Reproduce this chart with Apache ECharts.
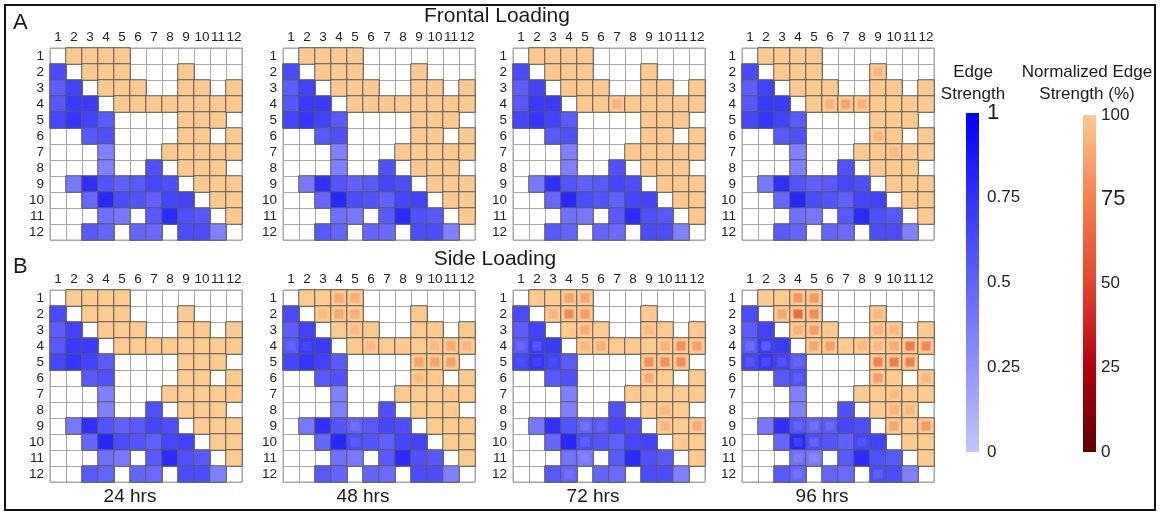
<!DOCTYPE html>
<html>
<head>
<meta charset="utf-8">
<script src="https://cdn.jsdelivr.net/npm/echarts@6.0.0/dist/echarts.min.js"></script>
<style>
  html, body { margin: 0; padding: 0; background: #fff; }
  #chart { width: 1161px; height: 514px; }
</style>
</head>
<body>
<div id="chart"></div>
<script>
// node labels (rows / columns of every matrix)
const nodeLabels = ['1', '2', '3', '4', '5', '6', '7', '8', '9', '10', '11', '12'];

// baseline edge strength, lower triangle (row, col), 0 = no edge
const baseStrength = [
  [0, 0, 0, 0, 0, 0, 0, 0, 0, 0, 0, 0],
  [0.62, 0, 0, 0, 0, 0, 0, 0, 0, 0, 0, 0],
  [0.53, 0.67, 0, 0, 0, 0, 0, 0, 0, 0, 0, 0],
  [0.55, 0.71, 0.70, 0, 0, 0, 0, 0, 0, 0, 0, 0],
  [0.65, 0.73, 0.67, 0.54, 0, 0, 0, 0, 0, 0, 0, 0],
  [0, 0, 0.55, 0.59, 0, 0, 0, 0, 0, 0, 0, 0],
  [0, 0, 0, 0.35, 0, 0, 0, 0, 0, 0, 0, 0],
  [0, 0, 0, 0.35, 0, 0, 0.59, 0, 0, 0, 0, 0],
  [0, 0.39, 0.76, 0.57, 0.51, 0.55, 0.65, 0.60, 0, 0, 0, 0],
  [0, 0, 0.48, 0.80, 0.61, 0.57, 0.51, 0.65, 0.67, 0, 0, 0],
  [0, 0, 0, 0.43, 0.39, 0, 0.55, 0.78, 0.59, 0.55, 0, 0],
  [0, 0, 0.55, 0.49, 0, 0.49, 0.46, 0, 0.61, 0.61, 0.35, 0]
];
// normalized edge strength (%) of every edge at baseline
const basePercent = 100;

// changed cells per time point: [row, col, value]
// row > col -> edge strength, row < col -> normalized edge strength (%)
const frontal24 = [];
const frontal48 = [];
const frontal72 = [[4, 7, 92]];
const frontal96 = [[2, 9, 93], [4, 6, 92], [4, 7, 88], [4, 8, 92], [6, 9, 93], [7, 10, 94]];

const side24 = [];
const side48 = [
  [1, 4, 90], [1, 5, 91], [2, 3, 95], [2, 4, 89], [2, 5, 91], [3, 5, 95], [4, 6, 94],
  [4, 10, 95], [4, 11, 90], [4, 12, 93], [5, 9, 86], [5, 10, 87], [5, 11, 86], [6, 9, 94],
  [4, 1, 0.49], [4, 2, 0.64], [9, 5, 0.44], [10, 5, 0.54], [11, 5, 0.37]
];
const side72 = [
  [1, 4, 87], [1, 5, 88], [2, 3, 92], [2, 4, 78], [2, 5, 85], [3, 5, 89], [3, 9, 95],
  [4, 5, 93], [4, 6, 91], [4, 10, 92], [4, 11, 80], [4, 12, 86], [5, 9, 80], [5, 10, 80],
  [5, 11, 79], [6, 9, 90], [8, 10, 94], [9, 10, 92], [9, 12, 90],
  [4, 1, 0.47], [4, 2, 0.56], [5, 1, 0.60], [5, 2, 0.66], [5, 3, 0.62], [9, 5, 0.42],
  [9, 6, 0.49], [10, 5, 0.51], [11, 4, 0.40], [11, 5, 0.34], [12, 4, 0.44]
];
const side96 = [
  [1, 4, 82], [1, 5, 84], [2, 3, 88], [2, 4, 66], [2, 5, 79], [2, 9, 94], [3, 4, 92],
  [3, 5, 85], [3, 9, 92], [3, 10, 94], [4, 5, 88], [4, 6, 85], [4, 8, 94], [4, 9, 94],
  [4, 10, 90], [4, 11, 72], [4, 12, 77], [5, 9, 75], [5, 10, 73], [5, 11, 75], [6, 9, 85],
  [6, 12, 94], [7, 10, 95], [8, 10, 92], [8, 11, 94], [9, 10, 88], [9, 12, 84],
  [4, 1, 0.45], [4, 2, 0.52], [5, 1, 0.57], [5, 2, 0.62], [5, 3, 0.58], [5, 4, 0.48],
  [6, 4, 0.53], [9, 4, 0.50], [9, 5, 0.42], [9, 6, 0.46], [10, 4, 0.68], [10, 5, 0.50],
  [10, 8, 0.58], [11, 4, 0.36], [11, 5, 0.32], [12, 4, 0.42], [12, 9, 0.52]
];

const panels = [frontal24, frontal48, frontal72, frontal96, side24, side48, side72, side96];
const timeLabels = ['24 hrs', '48 hrs', '72 hrs', '96 hrs'];
const loadingTitles = ['Frontal Loading', 'Side Loading'];
const panelLetters = ['A', 'B'];

// layout / style
const FONT = "'Liberation Sans', Arial, sans-serif";
const gridLefts = [50, 283, 513, 742];
const gridTops = [48, 290];
const span = 192;
const blueStops = ['#c4c4ff', '#0000ff'];
const orangeStops = ['#5c0000', '#b5000f', '#e2452f', '#f57f4f', '#fcc98f'];

let chart = echarts.init(document.getElementById('chart'));

let grids = [], xAxes = [], yAxes = [], series = [];
let blueIdx = [], orangeIdx = [];

function heat(p, data) {
  return {
    type: 'heatmap', xAxisIndex: p, yAxisIndex: p, data: data, silent: true,
    itemStyle: { borderColor: '#5a5a5a', borderWidth: 1 },
    emphasis: { disabled: true }
  };
}

function inner(p, data) {
  return {
    type: 'scatter', xAxisIndex: p, yAxisIndex: p, data: data, silent: true,
    symbol: 'rect', symbolSize: 9, z: 4, itemStyle: { opacity: 1 }
  };
}

panels.forEach((changes, p) => {
  grids.push({
    left: gridLefts[p % 4], top: gridTops[Math.floor(p / 4)], width: span, height: span,
    show: true, borderColor: '#a0a0a0', borderWidth: 1
  });
  let labelStyle = { interval: 0, fontSize: 13.5, color: '#222', fontFamily: FONT };
  xAxes.push({
    gridIndex: p, type: 'category', data: nodeLabels, position: 'top',
    axisLine: { show: false }, axisTick: { show: false },
    axisLabel: Object.assign({ margin: 4 }, labelStyle),
    splitLine: { show: true, interval: 0, lineStyle: { color: '#a8a8a8', width: 1 } }
  });
  yAxes.push({
    gridIndex: p, type: 'category', data: nodeLabels, inverse: true,
    axisLine: { show: false }, axisTick: { show: false },
    axisLabel: Object.assign({ margin: 6 }, labelStyle),
    splitLine: { show: true, interval: 0, lineStyle: { color: '#a8a8a8', width: 1 } }
  });

  let blue = [], orange = [];
  baseStrength.forEach((row, i) => row.forEach((v, j) => {
    if (v > 0) {
      blue.push([j, i, v]);
      orange.push([i, j, basePercent]);
    }
  }));
  let blueIn = [], orangeIn = [];
  changes.forEach(([r, c, v]) => (r > c ? blueIn : orangeIn).push([c - 1, r - 1, v]));

  blueIdx.push(series.length, series.length + 2);
  orangeIdx.push(series.length + 1, series.length + 3);
  series.push(heat(p, blue), heat(p, orange), inner(p, blueIn), inner(p, orangeIn));
});

// colour bars drawn as one gradient bar on a value axis
function colorBar(idx, left, top, height, max, stops, bigValue, margin) {
  grids.push({ left: left, top: top, width: 13, height: height });
  xAxes.push({ gridIndex: idx, type: 'category', data: [''], show: false });
  yAxes.push({
    gridIndex: idx, type: 'value', min: 0, max: max, interval: max / 4, position: 'right',
    axisLine: { show: false }, axisTick: { show: false }, splitLine: { show: false },
    axisLabel: {
      margin: margin, fontSize: 17, color: '#222', fontFamily: FONT,
      formatter: v => (v === bigValue ? '{big|' + v + '}' : String(v)),
      rich: { big: { fontSize: 22, fontFamily: FONT, color: '#222' } }
    }
  });
  let grad = stops.slice().reverse().map((c, k, a) => ({ offset: k / (a.length - 1), color: c }));
  series.push({
    type: 'bar', xAxisIndex: idx, yAxisIndex: idx, data: [max], barWidth: '100%', silent: true,
    itemStyle: { color: { type: 'linear', x: 0, y: 0, x2: 0, y2: 1, colorStops: grad } }
  });
}
colorBar(8, 966, 113, 339, 1, blueStops, 1, 8);
colorBar(9, 1083, 115, 337, 100, orangeStops, 75, 5);

function text(str, x, y, size, align) {
  return {
    type: 'text', x: x, y: y, silent: true,
    style: { text: str, font: size + 'px ' + FONT, fill: '#1a1a1a', textAlign: align || 'center', textVerticalAlign: 'middle' }
  };
}

let graphics = [
  { type: 'rect', silent: true, shape: { x: 5, y: 5, width: 1150, height: 505 },
    style: { fill: null, stroke: '#111', lineWidth: 2 } },
  text(panelLetters[0], 13, 23, 22, 'left'),
  text(panelLetters[1], 13, 267, 22, 'left'),
  text(loadingTitles[0], 497, 16, 21),
  text(loadingTitles[1], 495, 259, 21),
  text('Edge', 973, 72, 17),
  text('Strength', 973, 94, 17),
  text('Normalized Edge', 1087, 72, 17),
  text('Strength (%)', 1087, 94, 17)
];
timeLabels.forEach((t, k) => graphics.push(text(t, gridLefts[k] + 80, 497, 19)));

chart.setOption({
  animation: false,
  backgroundColor: '#fff',
  grid: grids,
  xAxis: xAxes,
  yAxis: yAxes,
  visualMap: [
    { type: 'continuous', show: false, min: 0, max: 1, dimension: 2, seriesIndex: blueIdx, inRange: { color: blueStops } },
    { type: 'continuous', show: false, min: 0, max: 100, dimension: 2, seriesIndex: orangeIdx, inRange: { color: orangeStops } }
  ],
  series: series,
  graphic: graphics
});
</script>
</body>
</html>
